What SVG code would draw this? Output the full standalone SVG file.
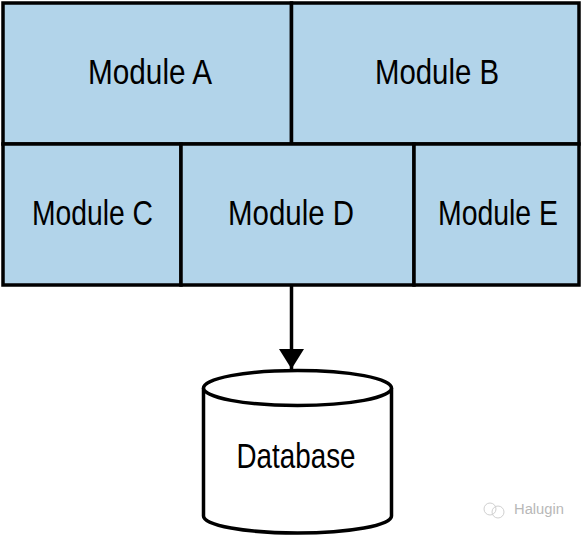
<svg xmlns="http://www.w3.org/2000/svg" width="583" height="536" viewBox="0 0 583 536">
<defs>
<style>
.cell{fill:#b2d4ea;stroke:#000;stroke-width:3.5}
.lbl{font-family:"Liberation Sans",Arial,sans-serif;font-size:35px;fill:#000;text-anchor:middle}
.db{fill:#fff;stroke:#000;stroke-width:3.5}
.wm{font-family:"Liberation Sans",Arial,sans-serif;font-size:14px;fill:#b8b8b8}
</style>
<marker id="arr" markerUnits="userSpaceOnUse" markerWidth="26" markerHeight="26" refX="20" refY="12.5" orient="auto">
<path d="M0,0 L20,12.5 L0,25 Z" fill="#000"/>
</marker>
</defs>
<rect x="0" y="0" width="583" height="536" fill="#fff"/>
<g id="moduleA"><rect class="cell" x="3" y="3" width="288.5" height="141"/><text class="lbl" x="150" y="84" textLength="124" lengthAdjust="spacingAndGlyphs">Module A</text></g>
<g id="moduleB"><rect class="cell" x="291.5" y="3" width="287.5" height="141"/><text class="lbl" x="437" y="84" textLength="124" lengthAdjust="spacingAndGlyphs">Module B</text></g>
<g id="moduleC"><rect class="cell" x="3" y="144" width="178" height="141"/><text class="lbl" x="92.5" y="225" textLength="121" lengthAdjust="spacingAndGlyphs">Module C</text></g>
<g id="moduleD"><rect class="cell" x="181" y="144" width="233" height="141"/><text class="lbl" x="291" y="225" textLength="126" lengthAdjust="spacingAndGlyphs">Module D</text></g>
<g id="moduleE"><rect class="cell" x="414" y="144" width="165" height="141"/><text class="lbl" x="498" y="225" textLength="120" lengthAdjust="spacingAndGlyphs">Module E</text></g>
<g id="connectors"><line x1="291.5" y1="286" x2="291.5" y2="369" stroke="#000" stroke-width="3.5" marker-end="url(#arr)"/></g>
<g id="database">
<path class="db" d="M203.5,388 L203.5,516 A94,17 0 0 0 391.5,516 L391.5,388"/>
<ellipse class="db" cx="297.5" cy="388" rx="94" ry="17.5"/>
<text class="lbl" x="296" y="468" textLength="119" lengthAdjust="spacingAndGlyphs">Database</text>
</g>
<g id="watermark">
<circle cx="490" cy="509" r="6" fill="none" stroke="#d0d0d0" stroke-width="1"/>
<circle cx="498" cy="512" r="6" fill="none" stroke="#d0d0d0" stroke-width="1"/>
<text class="wm" x="514" y="514" textLength="50" lengthAdjust="spacingAndGlyphs">Halugin</text>
</g>
</svg>
